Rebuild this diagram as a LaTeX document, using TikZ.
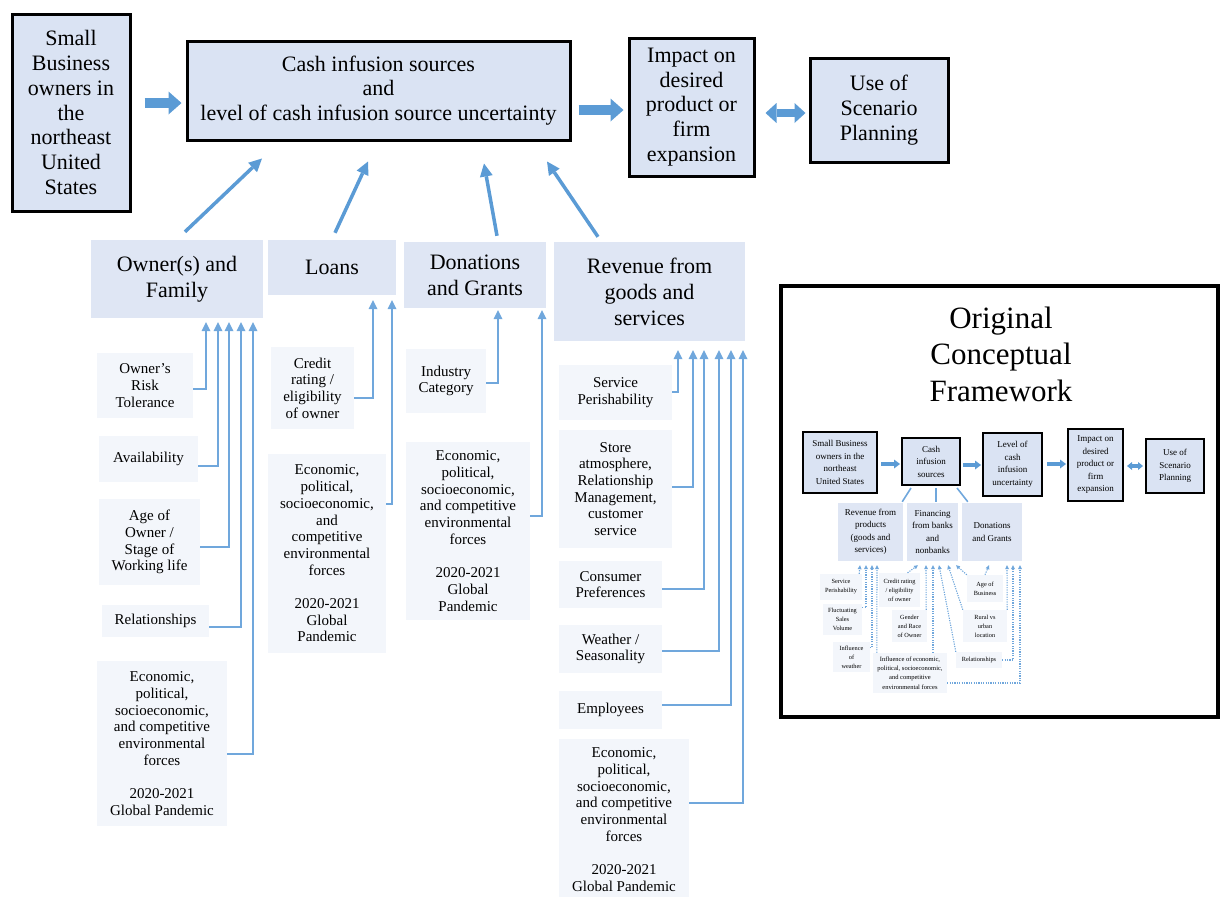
\documentclass[tikz,border=0pt]{standalone}
\usepackage{fontspec}
\setmainfont{Liberation Serif}
\usetikzlibrary{arrows.meta,calc}

\definecolor{boxfill}{RGB}{218,227,243}
\definecolor{catfill}{RGB}{223,230,244}
\definecolor{subfill}{RGB}{243,246,251}
\definecolor{arrowblue}{RGB}{91,155,213}
\definecolor{linkblue}{RGB}{112,167,220}

\tikzset{
  mainbox/.style={draw=black, line width=3pt, fill=boxfill, inner sep=0pt, align=center,
    font=\fontsize{22}{24.8}\selectfont},
  catbox/.style={fill=catfill, inner sep=0pt, align=center, font=\fontsize{22}{26}\selectfont},
  subbox/.style={fill=subfill, inner sep=0pt, align=center, font=\fontsize{15}{16.7}\selectfont},
  fatarrow/.style={draw=arrowblue, line width=10pt,
    -{Triangle[length=13pt,width=23pt,line width=0pt]}},
  dblarrow/.style={draw=arrowblue, line width=8pt,
    {Triangle[length=11pt,width=20pt,line width=0pt]}-{Triangle[length=11pt,width=20pt,line width=0pt]}},
  catarrow/.style={draw=arrowblue, line width=3.5pt,
    -{Triangle[length=13pt,width=13pt,line width=0pt]}},
  subarrow/.style={draw=linkblue, line width=2pt,
    -{Triangle[length=9pt,width=9pt,line width=0pt]}},
  framebox/.style={draw=black, line width=4pt, inner sep=0pt},
  minibox/.style={draw=black, line width=2pt, fill=boxfill, inner sep=0pt, align=center,
    font=\fontsize{9}{12.5}\selectfont},
  minicat/.style={fill=catfill, inner sep=0pt, align=center, font=\fontsize{9}{12.5}\selectfont},
  minisub/.style={fill=subfill, inner sep=0pt, align=center, font=\fontsize{6.3}{9}\selectfont},
  miniarrow/.style={draw=arrowblue, line width=4pt,
    -{Triangle[length=6pt,width=9pt,line width=0pt]}},
  minidbl/.style={draw=arrowblue, line width=3.5pt,
    {Triangle[length=5pt,width=8pt,line width=0pt]}-{Triangle[length=5pt,width=8pt,line width=0pt]}},
  minilink/.style={draw=linkblue, line width=1.6pt},
  minidot/.style={draw=linkblue, line width=1.1pt, dash pattern=on 1.2pt off 1.2pt,
    -{Triangle[length=4pt,width=4pt,line width=0pt]}},
}

\begin{document}
\begin{tikzpicture}[x=1pt,y=-1pt]
\useasboundingbox (0,0) rectangle (1221,897);
\clip (0,0) rectangle (1221,897);

% ---------- top row ----------
\node[mainbox, minimum width=118pt, minimum height=197pt] (owners) at (71,112.5)
  {Small\\Business\\owners in\\the\\northeast\\United\\States};
\node[mainbox, minimum width=383pt, minimum height=99pt] (cash) at (378.5,90.5)
  {Cash infusion sources\\and\\level of cash infusion source uncertainty};
\node[mainbox, minimum width=125pt, minimum height=138pt] (impact) at (691.5,107)
  {Impact on\\desired\\product or\\firm\\expansion};
\node[mainbox, minimum width=138pt, minimum height=104pt] (scen) at (879,110)
  {Use of\\Scenario\\Planning};

\draw[fatarrow] ($(owners.east)+(13,-9.5)$) -- ($(cash.west)+(-4,12.5)$);
\draw[fatarrow] ($(cash.east)+(7,19.5)$) -- ($(impact.west)+(-4,3)$);
\draw[dblarrow] ($(impact.east)+(10,6)$) -- ($(scen.west)+(-3,3)$);

% ---------- cash infusion categories ----------
\node[catbox, minimum width=172pt, minimum height=78pt] (own) at (177,279)
  {Owner(s) and\\Family};
\node[catbox, minimum width=128pt, minimum height=55pt] (loans) at (332,267.5)
  {Loans};
\node[catbox, minimum width=142pt, minimum height=66pt] (don) at (475,275)
  {Donations\\and Grants};
\node[catbox, minimum width=191pt, minimum height=99pt] (rev) at (649.5,291.5)
  {Revenue from\\goods and\\services};

\draw[catarrow] ($(own.north)+(8,-8)$) -- ($(cash.south)+(-116.5,17)$);
\draw[catarrow] ($(loans.north)+(3,-7)$) -- ($(cash.south)+(-10.5,20)$);
\draw[catarrow] ($(don.north)+(22,-6)$) -- ($(cash.south)+(105.5,22)$);
\draw[catarrow] ($(rev.north)+(-51.5,-5)$) -- ($(cash.south)+(168.5,20)$);

% ---------- owner(s) and family factors ----------
\node[subbox, minimum width=96pt, minimum height=65pt] (risk) at (145,385.5)
  {Owner’s\\Risk\\Tolerance};
\node[subbox, minimum width=99pt, minimum height=46pt] (avail) at (148.5,459)
  {Availability};
\node[subbox, minimum width=101pt, minimum height=86pt] (age) at (149.5,542)
  {Age of\\Owner /\\Stage of\\Working life};
\node[subbox, minimum width=107pt, minimum height=32pt] (rel) at (155.5,621)
  {Relationships};
\node[subbox, minimum width=130pt, minimum height=165pt] (econA) at (162,743.5)
  {Economic,\\political,\\socioeconomic,\\and competitive\\environmental\\forces\\[16.7pt]2020-2021\\Global Pandemic};

\draw[subarrow] ($(risk.east)+(0,3.5)$) -| ($(own.south)+(29,4)$);
\draw[subarrow] ($(avail.east)+(0,7)$) -| ($(own.south)+(41,4)$);
\draw[subarrow] ($(age.east)+(0,5)$) -| ($(own.south)+(52,4)$);
\draw[subarrow] ($(rel.east)+(0,6)$) -| ($(own.south)+(64,4)$);
\draw[subarrow] ($(econA.east)+(0,10.5)$) -| ($(own.south)+(76,4)$);

% ---------- loans factors ----------
\node[subbox, minimum width=83pt, minimum height=82pt] (credit) at (312.5,388)
  {Credit\\rating /\\eligibility\\of owner};
\node[subbox, minimum width=118pt, minimum height=199pt] (econB) at (327,553.5)
  {Economic,\\political,\\socioeconomic,\\and\\competitive\\environmental\\forces\\[16.7pt]2020-2021\\Global\\Pandemic};

\draw[subarrow] ($(credit.east)+(0,10)$) -| ($(loans.south)+(41,5)$);
\draw[subarrow] ($(econB.east)+(0,-49.5)$) -| ($(loans.south)+(60,5)$);

% ---------- donations and grants factors ----------
\node[subbox, minimum width=80pt, minimum height=64pt] (industry) at (446,381)
  {Industry\\Category};
\node[subbox, minimum width=124pt, minimum height=178pt] (econC) at (468,531)
  {Economic,\\political,\\socioeconomic,\\and competitive\\environmental\\forces\\[16.7pt]2020-2021\\Global\\Pandemic};

\draw[subarrow] ($(industry.east)+(0,2)$) -| ($(don.south)+(23,2)$);
\draw[subarrow] ($(econC.east)+(0,-15)$) -| ($(don.south)+(67,2)$);

% ---------- revenue factors ----------
\node[subbox, minimum width=113pt, minimum height=55pt] (serv) at (615.5,392.5)
  {Service\\Perishability};
\node[subbox, minimum width=113pt, minimum height=118pt] (store) at (615.5,489)
  {Store\\atmosphere,\\Relationship\\Management,\\customer\\service};
\node[subbox, minimum width=103pt, minimum height=47pt] (cons) at (610.5,584.5)
  {Consumer\\Preferences};
\node[subbox, minimum width=103pt, minimum height=48pt] (weath) at (610.5,649)
  {Weather /\\Seasonality};
\node[subbox, minimum width=103pt, minimum height=38pt] (empl) at (610.5,710)
  {Employees};
\node[subbox, minimum width=130pt, minimum height=161pt] (econD) at (624,819.5)
  {Economic,\\political,\\socioeconomic,\\and competitive\\environmental\\forces\\[16.7pt]2020-2021\\Global Pandemic};

\draw[subarrow] ($(serv.east)+(0,-0.5)$) -| ($(rev.south)+(28.5,9)$);
\draw[subarrow] ($(store.east)+(0,-2)$) -| ($(rev.south)+(43.5,9)$);
\draw[subarrow] ($(cons.east)+(0,4.5)$) -| ($(rev.south)+(54.5,9)$);
\draw[subarrow] ($(weath.east)+(0,2)$) -| ($(rev.south)+(69.5,9)$);
\draw[subarrow] ($(empl.east)+(0,-5)$) -| ($(rev.south)+(81.5,9)$);
\draw[subarrow] ($(econD.east)+(0,-16.5)$) -| ($(rev.south)+(93.5,9)$);

% ---------- original conceptual framework panel ----------
\node[framebox, minimum width=437pt, minimum height=431pt] (frame) at (999,501.5) {};
\node[align=center, font=\fontsize{31}{36.5}\selectfont] (title) at (1001,354)
  {Original\\Conceptual\\Framework};

\node[minibox, minimum width=74pt, minimum height=61pt] (m1) at (840,462.5)
  {Small Business\\owners in the\\northeast\\United States};
\node[minibox, minimum width=58pt, minimum height=47pt] (m2) at (931,461.5)
  {Cash\\infusion\\sources};
\node[minibox, minimum width=59pt, minimum height=63pt] (m3) at (1012.5,464.5)
  {Level of\\cash\\infusion\\uncertainty};
\node[minibox, minimum width=55pt, minimum height=72pt] (m4) at (1095.5,465)
  {Impact on\\desired\\product or\\firm\\expansion};
\node[minibox, minimum width=58pt, minimum height=54pt] (m5) at (1175,466)
  {Use of\\Scenario\\Planning};

\draw[miniarrow] ($(m1.east)+(3,1.5)$) -- ($(m2.west)+(-1,2.5)$);
\draw[miniarrow] ($(m2.east)+(2,3.5)$) -- ($(m3.west)+(-1,0.5)$);
\draw[miniarrow] ($(m3.east)+(4,-0.5)$) -- ($(m4.west)+(-1,-1)$);
\draw[minidbl] ($(m4.east)+(3,1)$) -- ($(m5.west)+(-2,0)$);

\node[minicat, minimum width=65pt, minimum height=58pt] (mc1) at (870.5,532)
  {Revenue from\\products\\(goods and\\services)};
\node[minicat, minimum width=51pt, minimum height=58pt] (mc2) at (932.5,532)
  {Financing\\from banks\\and\\nonbanks};
\node[minicat, minimum width=60pt, minimum height=58pt] (mc3) at (992,532)
  {Donations\\and Grants};

\draw[minilink] ($(m2.south)+(-20,2)$) -- ($(mc1.north east)+(-1,-1)$);
\draw[minilink] ($(m2.south)+(5,2)$) -- ($(mc2.north)+(3.5,-1)$);
\draw[minilink] ($(m2.south)+(26,2)$) -- ($(mc3.north west)+(6,-1)$);

\node[minisub, minimum width=42pt, minimum height=26pt] (s1) at (841,587)
  {Service\\Perishability};
\node[minisub, minimum width=39pt, minimum height=31pt] (s2) at (842.5,619.5)
  {Fluctuating\\Sales\\Volume};
\node[minisub, minimum width=37pt, minimum height=30pt] (s3) at (851.5,657)
  {Influence\\of\\weather};
\node[minisub, minimum width=41pt, minimum height=34pt] (s4) at (899.5,590)
  {Credit rating\\/ eligibility\\of owner};
\node[minisub, minimum width=35pt, minimum height=32pt] (s5) at (909.5,626)
  {Gender\\and Race\\of Owner};
\node[minisub, minimum width=74pt, minimum height=40pt, font=\fontsize{6.5}{9.3}\selectfont] (s6) at (910,673)
  {Influence of economic,\\political, socioeconomic,\\and competitive\\environmental forces};
\node[minisub, minimum width=36pt, minimum height=27pt] (s7) at (985,588.5)
  {Age of\\Business};
\node[minisub, minimum width=44pt, minimum height=32pt] (s8) at (985,626)
  {Rural vs\\urban\\location};
\node[minisub, minimum width=46pt, minimum height=16pt] (s9) at (979,660)
  {Relationships};

% revenue factors
\draw[minidot] ($(s1.north east)+(-3,0)$) -- ($(mc1.south)+(-10.5,4)$);
\draw[minidot] ($(s2.north east)+(0,4)$) -| ($(mc1.south)+(-4.5,4)$);
\draw[minidot] ($(s3.north east)+(0,6)$) -| ($(mc1.south)+(1.5,4)$);
\draw[minidot] ($(s6.north west)+(4,0)$) -- ($(mc1.south)+(6.5,4)$);
% financing factors
\draw[minidot] ($(s4.north)+(8,0)$) -- ($(mc2.south)+(-14.5,4)$);
\draw[minidot] ($(s5.north east)+(-1,0)$) -- ($(mc2.south)+(-6.5,4)$);
\draw[minidot] ($(s6.north)+(23,0)$) -- ($(mc2.south)+(0.5,4)$);
\draw[minidot] (s9.north west) -- ($(mc2.south)+(6.5,4)$);
\draw[minidot] (s8.north west) -- ($(mc2.south)+(15.5,4)$);
\draw[minidot] (s7.north west) -- ($(mc2.south)+(23.5,4)$);
% donations factors
\draw[minidot] (s7.north) -- ($(mc3.south)+(-3,4)$);
\draw[minidot] (s8.north east) -- ($(mc3.south)+(15,4)$);
\draw[minidot] (s9.east) -| ($(mc3.south)+(21,4)$);
\draw[minidot] ($(s6.east)+(0,10)$) -| ($(mc3.south)+(28,4)$);
\end{tikzpicture}
\end{document}
